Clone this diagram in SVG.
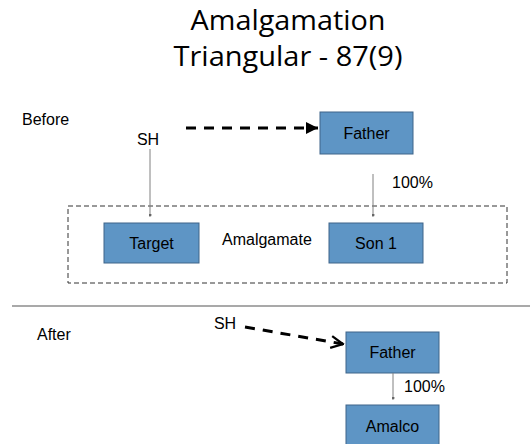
<svg xmlns="http://www.w3.org/2000/svg" width="530" height="444" viewBox="0 0 530 444">
<defs>
<style>
.t{font-family:"Liberation Sans",Arial,sans-serif;font-size:16px;fill:#000}
.c{text-anchor:middle}
.h{font-family:"Open Sans",sans-serif;font-size:28px;fill:#000;text-anchor:middle}
.box{fill:#5e95c5;stroke:#3f6489;stroke-width:1}
.thin{stroke:#808080;stroke-width:1;fill:none}
.dash{stroke:#000;stroke-width:3;stroke-dasharray:10 8;fill:none}
</style>
<marker id="ah" viewBox="0 0 10 10" refX="10" refY="5" markerWidth="4" markerHeight="4" orient="auto" markerUnits="strokeWidth"><path d="M0,0 L10,5 L0,10 z" fill="#000"/></marker>
<marker id="ao" viewBox="0 0 10 10" refX="9" refY="5" markerWidth="5" markerHeight="5" orient="auto" markerUnits="strokeWidth"><path d="M1,1 L9,5 L1,9" fill="none" stroke="#000" stroke-width="1.5"/></marker>
<marker id="dot" viewBox="0 0 4 4" refX="2" refY="2" markerWidth="3" markerHeight="3" markerUnits="userSpaceOnUse"><circle cx="2" cy="2" r="2" fill="#666"/></marker>
</defs>
<rect width="530" height="444" fill="#fff"/>
<g id="title">
<text class="h" x="288" y="30" textLength="195" lengthAdjust="spacingAndGlyphs">Amalgamation</text>
<text class="h" x="288" y="66" textLength="229" lengthAdjust="spacingAndGlyphs">Triangular - 87(9)</text>
</g>
<g id="labels">
<text class="t" x="22" y="125">Before</text>
<text class="t" x="37" y="340">After</text>
<text class="t" x="392" y="188">100%</text>
<text class="t" x="404" y="392">100%</text>
<text class="t" x="222" y="245">Amalgamate</text>
</g>
<g id="sh1"><text class="t" x="148" y="145" text-anchor="middle">SH</text></g>
<g id="sh2"><text class="t" x="225" y="329" text-anchor="middle">SH</text></g>
<g id="father1"><rect class="box" x="320" y="112" width="93" height="42"/><text class="t c" x="366.5" y="139">Father</text></g>
<g id="target"><rect class="box" x="104" y="223" width="95" height="40"/><text class="t c" x="151.5" y="249">Target</text></g>
<g id="son1"><rect class="box" x="329" y="223" width="94" height="40"/><text class="t c" x="376" y="249">Son 1</text></g>
<g id="father2"><rect class="box" x="346" y="332" width="93" height="41"/><text class="t c" x="392.5" y="358">Father</text></g>
<g id="amalco"><rect class="box" x="346" y="405" width="93" height="45"/><text class="t c" x="392.5" y="432">Amalco</text></g>
<g id="group-box"><rect x="68" y="206" width="439" height="77" fill="none" stroke="#333" stroke-width="1" stroke-dasharray="5 3"/></g>
<g id="divider"><line x1="12" y1="306" x2="530" y2="306" stroke="#555" stroke-width="1.2"/></g>
<g id="connectors">
<line class="dash" x1="186" y1="128" x2="318" y2="128" marker-end="url(#ah)"/>
<line class="thin" x1="150" y1="149" x2="150" y2="215" marker-end="url(#dot)"/>
<line class="thin" x1="373" y1="174" x2="373" y2="215" marker-end="url(#dot)"/>
<line class="dash" x1="245" y1="327" x2="343" y2="344" marker-end="url(#ao)"/>
<line class="thin" x1="393" y1="373" x2="393" y2="398" marker-end="url(#dot)"/>
</g>
</svg>
